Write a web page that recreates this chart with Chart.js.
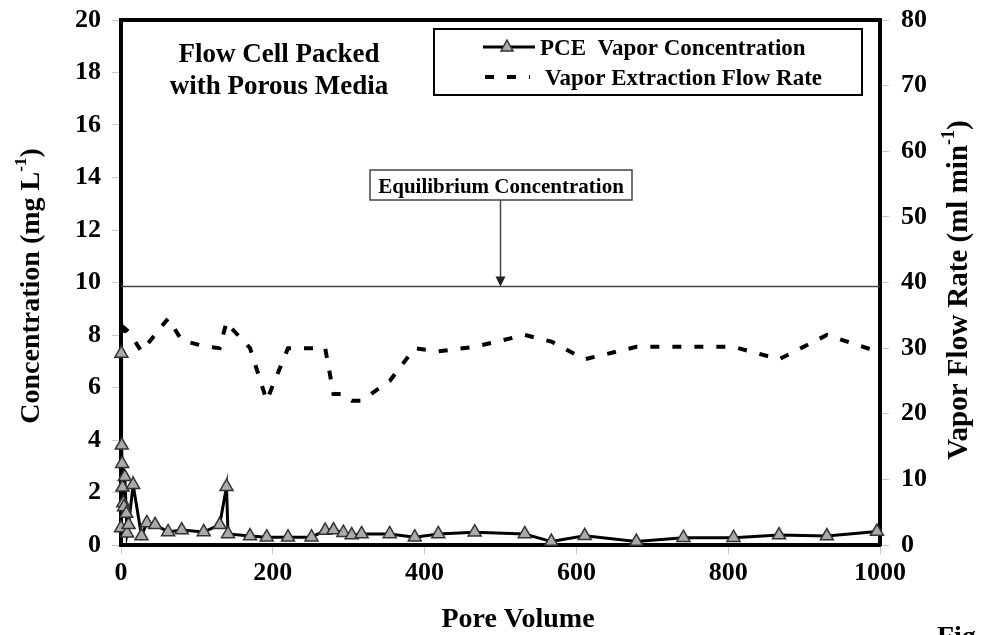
<!DOCTYPE html>
<html>
<head>
<meta charset="utf-8">
<script src="https://cdn.jsdelivr.net/npm/chart.js@4.4.1/dist/chart.umd.min.js"></script>
<style>
html, body { margin: 0; padding: 0; background: #fff; }
#wrap { width: 982px; height: 635px; }
</style>
</head>
<body>
<div id="wrap"><canvas id="chart" width="982" height="635"></canvas></div>
<script>
// PCE vapor concentration (mg/L) vs pore volume
const pcePoreVolume = [0, 0.5, 1, 1.5, 2, 3, 4, 5, 7, 8, 10, 16, 27, 34, 45, 62, 80, 109, 130, 139,
    141, 170, 192, 220, 251, 269, 280, 293, 304, 317, 354, 387, 418, 466, 532, 567, 611, 679, 741, 807,
    867, 930, 996];
const pceConc = [0.65, 7.3, 3.8, 3.1, 2.2, 1.6, 1.45, 2.6, 1.2, 0.45, 0.77, 2.3, 0.34, 0.84, 0.77, 0.5, 0.57, 0.5, 0.77, 2.22,
    0.42, 0.34, 0.3, 0.3, 0.3, 0.55, 0.57, 0.47, 0.38, 0.42, 0.42, 0.3, 0.42, 0.49, 0.42, 0.13, 0.35, 0.13, 0.28, 0.28,
    0.38, 0.34, 0.51];

// vapor extraction flow rate (ml/min), right axis
const flowPoreVolume = [0, 2, 5, 10, 27, 62, 80, 109, 130, 139, 141, 170, 192, 220, 251, 269, 280, 293, 304, 317,
    354, 387, 418, 466, 532, 567, 611, 679, 741, 807, 867, 930, 996];
const flowRate = [34, 31.5, 33, 32.5, 29.5, 34.5, 31.2, 30.3, 30, 34, 33.6, 30, 22, 30, 30, 30, 23, 23, 22, 22,
    25, 30, 29.5, 30.2, 32, 31, 28.3, 30.2, 30.2, 30.2, 28.3, 32, 29.5];

const equilibriumConc = 9.85;
const equilibriumRange = [0, 1000];

const xTicks = [0, 200, 400, 600, 800, 1000];
const yTicksLeft = [0, 2, 4, 6, 8, 10, 12, 14, 16, 18, 20];
const yTicksRight = [0, 10, 20, 30, 40, 50, 60, 70, 80];

const SERIF = '"Liberation Serif", "Times New Roman", serif';
const tickFont = { family: SERIF, size: 26, weight: 'bold' };

function toPoints(xs, ys) {
    return xs.map((x, i) => ({ x: x, y: ys[i] }));
}

// rotated title with a superscript part
function drawRotatedTitle(ctx, cx, cy, size, main, sup, tail) {
    ctx.save();
    ctx.translate(cx, cy);
    ctx.rotate(-Math.PI / 2);
    const big = 'bold ' + size + 'px ' + SERIF;
    const small = 'bold ' + Math.round(size * 0.62) + 'px ' + SERIF;
    ctx.font = big;
    const w1 = ctx.measureText(main).width;
    const w3 = ctx.measureText(tail).width;
    ctx.font = small;
    const w2 = ctx.measureText(sup).width;
    let x = -(w1 + w2 + w3) / 2;
    ctx.fillStyle = '#000';
    ctx.textBaseline = 'alphabetic';
    ctx.textAlign = 'left';
    ctx.font = big;
    ctx.fillText(main, x, 9);
    x += w1;
    ctx.font = small;
    ctx.fillText(sup, x, -4);
    x += w2;
    ctx.font = big;
    ctx.fillText(tail, x, 9);
    ctx.restore();
}

const overlay = {
    id: 'overlay',
    beforeDatasetsDraw(chart) {
        const { ctx, chartArea } = chart;
        ctx.save();
        ctx.strokeStyle = '#000';
        ctx.lineWidth = 4;
        ctx.beginPath();
        ctx.moveTo(chartArea.left - 2, chartArea.top);
        ctx.lineTo(chartArea.right + 2, chartArea.top);
        ctx.stroke();
        ctx.restore();
    },
    afterDraw(chart) {
        const { ctx } = chart;
        const xs = chart.scales.x;
        const ys = chart.scales.y;
        ctx.save();
        ctx.fillStyle = '#000';

        // box label
        ctx.font = 'bold 27px ' + SERIF;
        ctx.textAlign = 'center';
        ctx.textBaseline = 'alphabetic';
        ctx.fillText('Flow Cell Packed', 279, 62);
        ctx.fillText('with Porous Media', 279, 94);

        // legend
        ctx.lineWidth = 2;
        ctx.strokeStyle = '#000';
        ctx.strokeRect(434, 29, 428, 66);
        ctx.lineWidth = 3;
        ctx.beginPath();
        ctx.moveTo(483, 47);
        ctx.lineTo(535, 47);
        ctx.stroke();
        ctx.beginPath();
        ctx.moveTo(507, 40);
        ctx.lineTo(513, 51);
        ctx.lineTo(501, 51);
        ctx.closePath();
        ctx.fillStyle = '#aaa';
        ctx.fill();
        ctx.lineWidth = 1.5;
        ctx.strokeStyle = '#333';
        ctx.stroke();
        ctx.strokeStyle = '#000';
        ctx.lineWidth = 4;
        ctx.setLineDash([9, 13]);
        ctx.beginPath();
        ctx.moveTo(485, 77);
        ctx.lineTo(530, 77);
        ctx.stroke();
        ctx.setLineDash([]);
        ctx.fillStyle = '#000';
        ctx.font = 'bold 23px ' + SERIF;
        ctx.textAlign = 'left';
        ctx.fillText('PCE  Vapor Concentration', 540, 55);
        ctx.fillText('Vapor Extraction Flow Rate', 545, 85);

        // equilibrium annotation
        const ax = xs.getPixelForValue(500);
        const ay = ys.getPixelForValue(equilibriumConc);
        ctx.font = 'bold 21px ' + SERIF;
        ctx.textAlign = 'center';
        ctx.lineWidth = 1.5;
        ctx.strokeStyle = '#444';
        ctx.strokeRect(370, 170, 262, 30);
        ctx.fillText('Equilibrium Concentration', 501, 193);
        ctx.beginPath();
        ctx.moveTo(ax, 200);
        ctx.lineTo(ax, ay - 8);
        ctx.stroke();
        ctx.beginPath();
        ctx.moveTo(ax - 5, ay - 10);
        ctx.lineTo(ax + 5, ay - 10);
        ctx.lineTo(ax, ay);
        ctx.closePath();
        ctx.fillStyle = '#222';
        ctx.fill();
        ctx.fillStyle = '#000';

        // axis titles
        ctx.font = 'bold 28px ' + SERIF;
        ctx.textAlign = 'center';
        ctx.fillText('Pore Volume', 518, 627);
        drawRotatedTitle(ctx, 30, 286, 28, 'Concentration (mg L', '-1', ')');
        drawRotatedTitle(ctx, 958, 290, 29, 'Vapor Flow Rate (ml min', '-1', ')');

        ctx.textAlign = 'left';
        ctx.fillText('Fig.', 937, 645);
        ctx.restore();
    }
};

const ctx = document.getElementById('chart').getContext('2d');
new Chart(ctx, {
    type: 'line',
    data: {
        datasets: [
            {
                label: 'PCE  Vapor Concentration',
                data: toPoints(pcePoreVolume, pceConc),
                yAxisID: 'y',
                borderColor: '#000',
                borderWidth: 3,
                pointStyle: 'triangle',
                pointRadius: 7.5,
                pointBackgroundColor: '#aaa',
                pointBorderColor: '#333',
                pointBorderWidth: 1.5,
                tension: 0,
                clip: false,
                order: 1
            },
            {
                label: 'Vapor Extraction Flow Rate',
                data: toPoints(flowPoreVolume, flowRate),
                yAxisID: 'y2',
                borderColor: '#000',
                borderWidth: 4,
                borderDash: [9, 13],
                pointRadius: 0,
                tension: 0,
                order: 2
            },
            {
                label: 'Equilibrium',
                data: toPoints(equilibriumRange, [equilibriumConc, equilibriumConc]),
                yAxisID: 'y',
                borderColor: '#444',
                borderWidth: 1.5,
                pointRadius: 0,
                order: 3
            }
        ]
    },
    options: {
        responsive: false,
        animation: false,
        layout: { padding: { top: 20, left: 0, right: 0, bottom: 0 } },
        plugins: { legend: { display: false }, tooltip: { enabled: false } },
        scales: {
            x: {
                type: 'linear',
                min: 0,
                max: 1000,
                afterFit: s => { s.height = 90; s.paddingLeft = 0; s.paddingRight = 0; },
                afterBuildTicks: s => { s.ticks = xTicks.map(v => ({ value: v })); },
                ticks: { font: tickFont, color: '#000', padding: 4, maxRotation: 0, callback: v => String(v) },
                grid: { drawOnChartArea: false, tickLength: 9, color: '#c8c8c8' },
                border: { display: true, color: '#000', width: 4 }
            },
            y: {
                position: 'left',
                min: 0,
                max: 20,
                afterFit: s => { s.width = 121; s.paddingTop = 0; s.paddingBottom = 0; },
                afterBuildTicks: s => { s.ticks = yTicksLeft.map(v => ({ value: v })); },
                ticks: { font: tickFont, color: '#000', padding: 11 },
                grid: { drawOnChartArea: false, tickLength: 9, color: '#c8c8c8' },
                border: { display: true, color: '#000', width: 4 }
            },
            y2: {
                position: 'right',
                min: 0,
                max: 80,
                afterFit: s => { s.width = 102; s.paddingTop = 0; s.paddingBottom = 0; },
                afterBuildTicks: s => { s.ticks = yTicksRight.map(v => ({ value: v })); },
                ticks: { font: tickFont, color: '#000', padding: 12 },
                grid: { drawOnChartArea: false, tickLength: 9, color: '#c8c8c8' },
                border: { display: true, color: '#000', width: 4 }
            }
        }
    },
    plugins: [overlay]
});
</script>
</body>
</html>
